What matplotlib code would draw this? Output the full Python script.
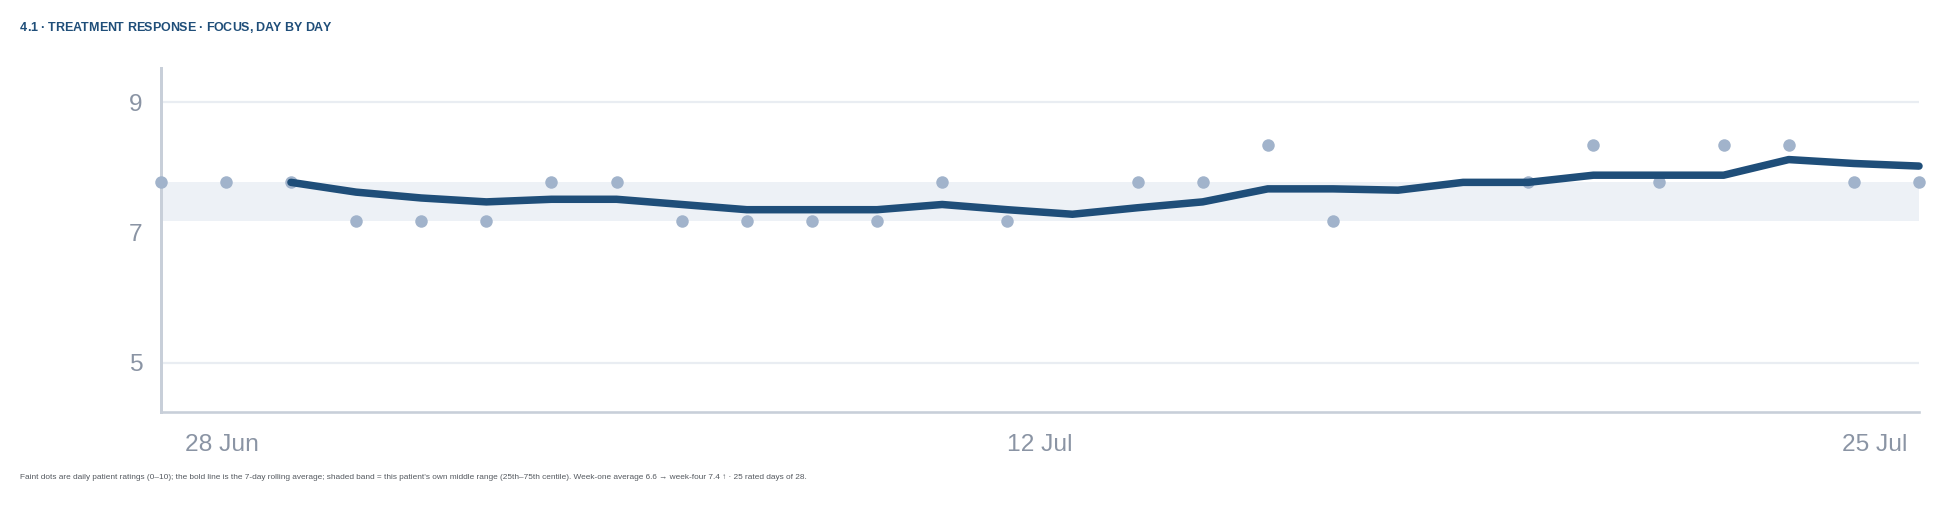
import matplotlib
matplotlib.use("Agg")
import matplotlib.pyplot as plt
import numpy as np
from matplotlib.font_manager import FontProperties

# ---------------- data ----------------
nan = np.nan
day_index = list(range(28))            # 28 Jun .. 25 Jul
daily_rating = [7.77, 7.77, 7.77, 7.18, 7.18, 7.18, 7.77,
                7.77, 7.18, 7.18, 7.18, 7.18, 7.77, 7.18,
                nan, 7.77, 7.77, 8.35, 7.18, nan, nan,
                7.77, 8.35, 7.77, 8.35, 8.35, 7.77, 7.77]
rolling_avg = [nan, nan, 7.77, 7.62, 7.53, 7.47, 7.51,
               7.51, 7.43, 7.35, 7.35, 7.35, 7.43, 7.35,
               7.28, 7.38, 7.47, 7.67, 7.67, 7.65, 7.77,
               7.77, 7.88, 7.88, 7.88, 8.12, 8.06, 8.02]
band_low, band_high = 7.18, 7.77
y_ticks = [5, 7, 9]
grid_levels = [5, 9]
x_tick_pos = [0.94, 13.5, 26.32]
x_tick_labels = ["28 Jun", "12 Jul", "25 Jul"]

title = "4.1 · TREATMENT RESPONSE · FOCUS, DAY BY DAY"
footnote = ("Faint dots are daily patient ratings (0–10); the bold line is the 7-day rolling average; "
            "shaded band = this patient's own middle range (25th–75th centile). "
            "Week-one average 6.6 → week-four 7.4 ↑ · 25 rated days of 28.")

# ---------------- style ----------------
W, H, DPI = 1949, 508, 100
PT = 0.72  # points per pixel at 100 dpi
LINE_C = "#1f4e79"
DOT_C = "#a1b3cb"
BAND_C = "#edf1f6"
GRID_C = "#e9edf2"
SPINE_C = "#c8cfd9"
TICK_C = "#8a94a4"

fig = plt.figure(figsize=(W / DPI, H / DPI), dpi=DPI)
ax_l, ax_r, ax_t, ax_b = 160.7, 1919.0, 68.3, 411.7
ax = fig.add_axes([ax_l / W, 1 - ax_b / H, (ax_r - ax_l) / W, (ax_b - ax_t) / H])

ax.set_xlim(0, 27)
ax.set_ylim(4.247, 9.522)

ax.axhspan(band_low, band_high, color=BAND_C, lw=0, zorder=1)
for g in grid_levels:
    ax.axhline(g, color=GRID_C, lw=2.2 * PT, zorder=1.5)

ax.scatter(day_index, daily_rating, s=(12.5 * PT) ** 2, color=DOT_C, lw=0,
           zorder=3, clip_on=False)
ax.plot(day_index, rolling_avg, color=LINE_C, lw=7.5 * PT, zorder=4,
        solid_capstyle="round", solid_joinstyle="round", clip_on=False)

for s in ["top", "right"]:
    ax.spines[s].set_visible(False)
ax.spines["left"].set_color(SPINE_C)
ax.spines["left"].set_linewidth(3 * PT)
ax.spines["bottom"].set_color(SPINE_C)
ax.spines["bottom"].set_linewidth(2.6 * PT)

tick_font = ["Liberation Sans", "DejaVu Sans"]
ax.set_yticks(y_ticks)
ax.set_yticklabels([str(v) for v in y_ticks], family=tick_font, fontsize=24.5 * PT, color=TICK_C)
ax.set_xticks(x_tick_pos)
ax.set_xticklabels(x_tick_labels, family=tick_font, fontsize=24.5 * PT, color=TICK_C)
ax.tick_params(axis="y", length=0, pad=18 * PT)
ax.tick_params(axis="x", length=0, pad=22 * PT)

# ---------------- title with letter spacing ----------------
renderer = fig.canvas.get_renderer()
fp_title = FontProperties(family=tick_font, weight="bold", size=12.5 * PT)


def text_w(s, fp):
    return renderer.get_text_width_height_descent(s, fp, ismath=False)[0]


base = text_w("xx", fp_title)
widths = [text_w("x" + c + "x", fp_title) - base for c in title]
target = 311.0
track = (target - sum(widths)) / (len(title) - 1)
x = 20.0
for c, wc in zip(title, widths):
    fig.text(x / W, 1 - 27.7 / H, c, fontproperties=fp_title, color=LINE_C,
             ha="left", va="center")
    x += wc + track

# ---------------- footnote ----------------
fp_foot = FontProperties(family=tick_font, size=6)
w6 = text_w(footnote, fp_foot)
foot_size = 6 * 796.0 / w6
fig.text(20 / W, 1 - 477.7 / H, footnote, family=tick_font, fontsize=foot_size,
         color="#555a60", ha="left", va="center")

fig.savefig("out.png", dpi=DPI)
